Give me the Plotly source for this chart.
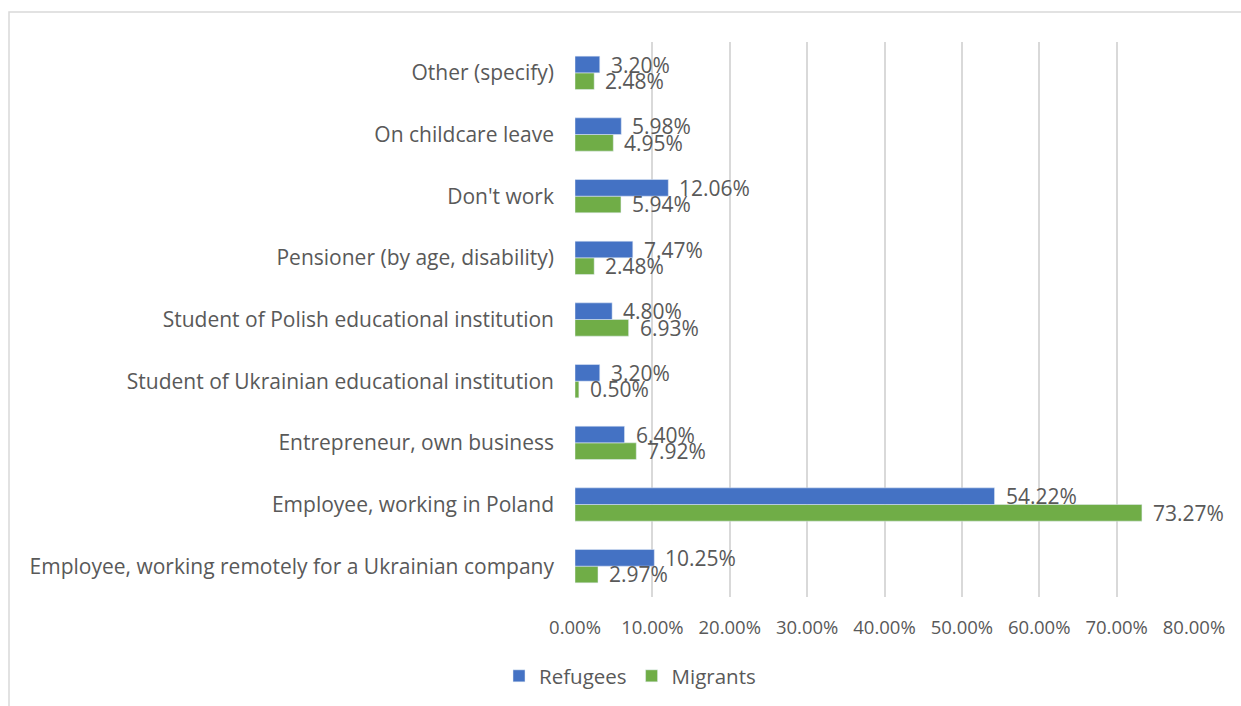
import plotly.graph_objects as go

# Employment status, listed bottom-to-top as drawn on the category axis
categories = [
    "Employee, working remotely for a Ukrainian company",
    "Employee, working in Poland",
    "Entrepreneur, own business",
    "Student of Ukrainian educational institution",
    "Student of Polish educational institution",
    "Pensioner (by age, disability)",
    "Don't work",
    "On childcare leave",
    "Other (specify)",
]
refugees = [10.25, 54.22, 6.40, 3.20, 4.80, 7.47, 12.06, 5.98, 3.20]
migrants = [2.97, 73.27, 7.92, 0.50, 6.93, 2.48, 5.94, 4.95, 2.48]
x_ticks = [0, 10, 20, 30, 40, 50, 60, 70, 80]

BLUE = "#4472C4"
GREEN = "#70AD47"
TEXT = "#595959"
GRID = "#D9D9D9"
FONT = "Open Sans"

W, H = 1241, 706
L, R, T, B = 575, 47, 42, 109
pw = W - L - R
ph = H - T - B

fig = go.Figure()
# Migrants added first so that Refugees sits above it in each group
fig.add_trace(go.Bar(
    y=list(range(len(categories))), x=[v / 100 for v in migrants], orientation="h",
    name="Migrants", marker=dict(color=GREEN), legendrank=2,
))
fig.add_trace(go.Bar(
    y=list(range(len(categories))), x=[v / 100 for v in refugees], orientation="h",
    name="Refugees", marker=dict(color=BLUE), legendrank=1,
))

bargap = 0.46
half = (1 - bargap) / 4
annotations = []
for i in range(len(categories)):
    for val, dy in ((refugees[i], half), (migrants[i], -half)):
        annotations.append(dict(
            x=val / 100, y=i + dy, xref="x", yref="y",
            text=f"{val:.2f}%", showarrow=False,
            xanchor="left", yanchor="middle", xshift=9,
            font=dict(family=FONT, size=21, color=TEXT),
        ))

# Outer chart border (top and left edges visible)
px2x = lambda p: (p - L) / pw
py2y = lambda p: (H - B - p) / ph
shapes = [dict(
    type="rect", xref="paper", yref="paper",
    x0=px2x(9), x1=px2x(1250), y0=py2y(716), y1=py2y(12),
    line=dict(color=GRID, width=1.5), fillcolor="rgba(0,0,0,0)", layer="below",
)]

fig.update_layout(
    width=W, height=H,
    margin=dict(l=L, r=R, t=T, b=B, autoexpand=False),
    paper_bgcolor="white", plot_bgcolor="white",
    barmode="group", bargap=bargap, bargroupgap=0,
    font=dict(family=FONT, color=TEXT),
    xaxis=dict(
        range=[0, 0.8], tickvals=[v / 100 for v in x_ticks], tickformat=".2%",
        showgrid=True, gridcolor=GRID, gridwidth=1.5, zeroline=False,
        showline=False, ticks="", tickfont=dict(size=18.5, color=TEXT),
        ticklabelstandoff=17, fixedrange=True, automargin=False,
    ),
    yaxis=dict(
        tickvals=list(range(len(categories))), ticktext=categories,
        range=[-0.5, len(categories) - 0.5],
        showgrid=False, zeroline=False, showline=False, ticks="",
        tickfont=dict(size=21, color=TEXT), ticklabelstandoff=20, automargin=False,
    ),
    legend=dict(
        orientation="h", x=px2x(630), xanchor="center", y=py2y(676), yanchor="middle",
        font=dict(size=20.5, color=TEXT), traceorder="normal",
        itemwidth=30,
    ),
    annotations=annotations,
    shapes=shapes,
)

fig.write_html("out.html")
